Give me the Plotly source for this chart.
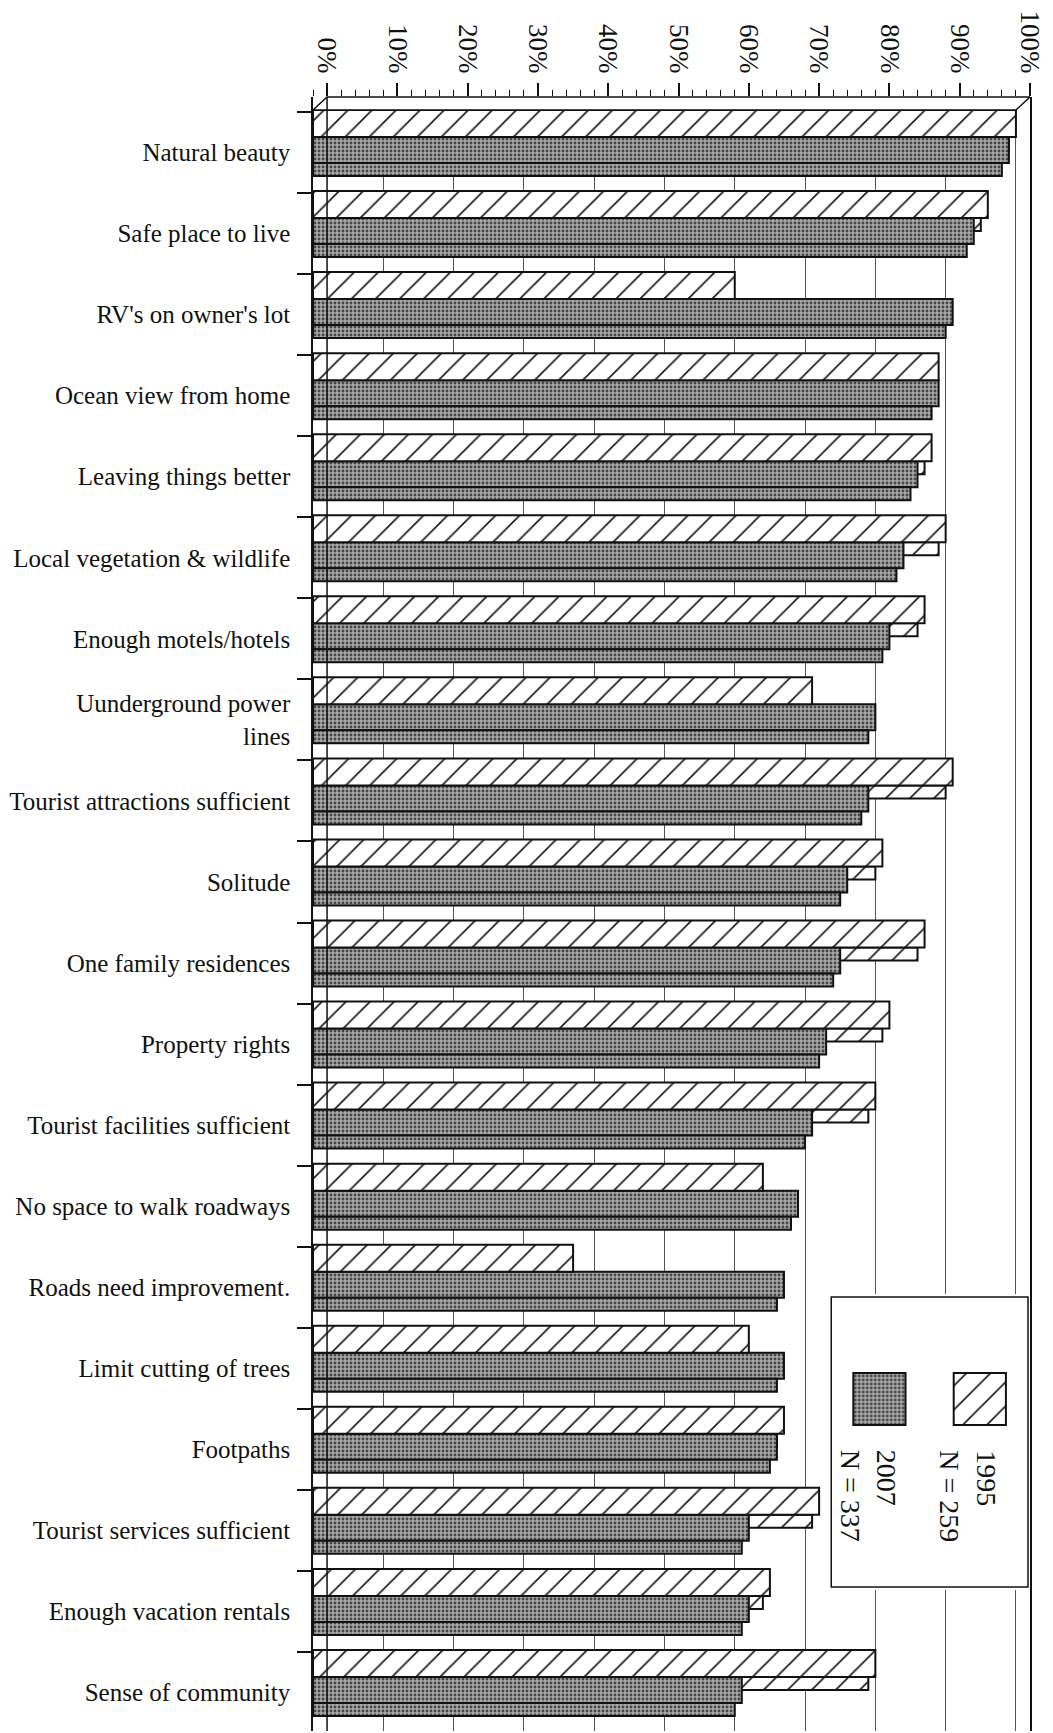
import plotly.graph_objects as go

# ---------------- data ----------------
categories = [
    "Natural beauty",
    "Safe place to live",
    "RV's on owner's lot",
    "Ocean view from home",
    "Leaving things better",
    "Local vegetation & wildlife",
    "Enough motels/hotels",
    "Uunderground power<br>lines",
    "Tourist attractions sufficient",
    "Solitude",
    "One family residences",
    "Property rights",
    "Tourist facilities sufficient",
    "No space to walk roadways",
    "Roads need improvement.",
    "Limit cutting of trees",
    "Footpaths",
    "Tourist services sufficient",
    "Enough vacation rentals",
    "Sense of community",
]
values_1995 = [98, 94, 58, 87, 86, 88, 85, 69, 89, 79, 85, 80, 78, 62, 35, 60, 65, 70, 63, 78]
values_2007 = [97, 92, 89, 87, 84, 82, 80, 78, 77, 74, 73, 71, 69, 67, 65, 65, 64, 60, 60, 59]
tick_values = [0, 10, 20, 30, 40, 50, 60, 70, 80, 90, 100]
tick_labels = ["0%", "10%", "20%", "30%", "40%", "50%", "60%", "70%", "80%", "90%", "100%"]
series_names = ["1995", "2007"]
sample_sizes = [259, 337]

# ---------------- styling / geometry ----------------
W, H = 1053, 1733
ML, MR, MT, MB = 313, 23, 97, 2
PLOT_H = H - MT - MB
DEPTH = 2.0            # 3-D depth in % units
FACE_SHRINK = 1.0      # slant of the lower faces in % units
BAND = 81.05           # px per category band
FIRST_BAND_TOP = 112   # px
FONT = "Liberation Serif"
INK = "#111111"
GRAY = "#a9a9a9"

HATCH = dict(shape="/", bgcolor="white", fgcolor="#1a1a1a", size=17, solidity=0.1)
STIPPLE = dict(shape=".", bgcolor=GRAY, fgcolor="#474747", size=4, solidity=0.4)
OUTLINE = dict(color=INK, width=2)


def off(px):
    return -0.5 + px / BAND


def wid(px):
    return px / BAND


top_units = (FIRST_BAND_TOP - MT) / BAND
y_top = -0.5 - top_units
y_bottom = y_top + PLOT_H / BAND


def ypaper(py):
    return 1 - (py - MT) / PLOT_H


def xpaper(px):
    return (px - ML) / (W - ML - MR)


fig = go.Figure()

# carrier for the back-wall grid axis
fig.add_trace(go.Scatter(x=[], y=[], xaxis="x2", yaxis="y", mode="markers",
                         showlegend=False, hoverinfo="skip"))

# lower face of 1995 bars (visible only where 1995 > 2007)
fig.add_trace(go.Bar(
    y=categories, x=[v - FACE_SHRINK + DEPTH for v in values_1995], base=-DEPTH,
    orientation="h", offset=off(25), width=wid(13),
    marker=dict(color="white", pattern=HATCH, line=OUTLINE),
    showlegend=False, hoverinfo="skip"))
# 2007 front face
fig.add_trace(go.Bar(
    y=categories, x=[v + DEPTH for v in values_2007], base=-DEPTH,
    orientation="h", offset=off(25), width=wid(26),
    marker=dict(color=GRAY, pattern=STIPPLE, line=OUTLINE),
    name=series_names[1], customdata=values_2007,
    hovertemplate="%{y}: %{customdata}%<extra>2007</extra>", showlegend=False))
# 2007 lower face
fig.add_trace(go.Bar(
    y=categories, x=[v - FACE_SHRINK + DEPTH for v in values_2007], base=-DEPTH,
    orientation="h", offset=off(51), width=wid(13),
    marker=dict(color=GRAY, pattern=STIPPLE, line=OUTLINE),
    showlegend=False, hoverinfo="skip"))
# 1995 front face
fig.add_trace(go.Bar(
    y=categories, x=[v + DEPTH for v in values_1995], base=-DEPTH,
    orientation="h", offset=off(-2), width=wid(27),
    marker=dict(color="white", pattern=HATCH, line=OUTLINE),
    name=series_names[0], customdata=values_1995,
    hovertemplate="%{y}: %{customdata}%<extra>1995</extra>", showlegend=False))

# ---------------- custom (rotated) legend ----------------
lx0, lx1 = 0.72, 1.0
ly0, ly1 = ypaper(1590), ypaper(1294)
ly_span = 1590 - 1294
fig.add_trace(go.Bar(
    x=[0.5], y=[(1587 - 1297) / ly_span], base=[(1590 - 1587) / ly_span], width=[1.96],
    marker=dict(color="white", line=dict(color=INK, width=1.5)),
    xaxis="x3", yaxis="y3", showlegend=False, hoverinfo="skip"))
sw_base = (1590 - 1425) / ly_span
sw_h = (1425 - 1373) / ly_span
fig.add_trace(go.Bar(
    x=[1], y=[sw_h], base=[sw_base], width=[0.52],
    marker=dict(color="white", pattern=HATCH, line=dict(color=INK, width=2)),
    xaxis="x3", yaxis="y3", showlegend=False, hoverinfo="skip"))
fig.add_trace(go.Bar(
    x=[0], y=[sw_h], base=[sw_base], width=[0.52],
    marker=dict(color=GRAY, pattern=STIPPLE, line=dict(color=INK, width=2)),
    xaxis="x3", yaxis="y3", showlegend=False, hoverinfo="skip"))

legend_centers = [968.75, 869.25]
for name, n, cx in zip(series_names, sample_sizes, legend_centers):
    fig.add_annotation(
        text=f"{name}<br>N = {n}", xref="paper", yref="paper",
        x=xpaper(cx), y=ypaper(1448), xanchor="center", yanchor="top",
        textangle=90, align="left", showarrow=False,
        font=dict(family=FONT, size=28, color=INK))

# ---------------- frame shapes ----------------
y_back_top = ypaper(110)
fig.add_shape(type="path", xref="x", yref="paper",
              path=f"M 0,1 L 100,1 L {100 - DEPTH},{y_back_top} L {-DEPTH},{y_back_top} Z",
              fillcolor="white", line=dict(color=INK, width=1.5), layer="above")
fig.add_shape(type="line", xref="x", yref="paper", x0=0, x1=0, y0=0, y1=1,
              line=dict(color=INK, width=1.5), layer="above")

fig.update_layout(
    width=W, height=H, template="none",
    margin=dict(l=ML, r=MR, t=MT, b=MB, autoexpand=False),
    paper_bgcolor="white", plot_bgcolor="white",
    barmode="overlay", showlegend=False,
    font=dict(family=FONT, color=INK, size=25),
    xaxis=dict(range=[-DEPTH, 100], side="top", tickmode="array",
               tickvals=tick_values, ticktext=tick_labels, tickangle=90,
               ticks="outside", ticklen=13, tickwidth=1.5, tickcolor=INK,
               showline=False, showgrid=False, zeroline=False,
               tickfont=dict(family=FONT, size=27, color=INK),
               minor=dict(ticks="outside", ticklen=6, tickwidth=1.2, tickcolor=INK,
                          tickmode="linear", tick0=0, dtick=2, showgrid=False),
               automargin=False, fixedrange=True),
    xaxis2=dict(overlaying="x", anchor="y", side="top", range=[0, 100 + DEPTH],
                tickmode="array", tickvals=tick_values, showticklabels=False, ticks="",
                showgrid=True, gridcolor="#555555", gridwidth=1, zeroline=False,
                showline=False, automargin=False, fixedrange=True),
    yaxis=dict(type="category", categoryorder="array", categoryarray=categories,
               range=[y_bottom, y_top], ticks="outside", tickson="boundaries",
               ticklen=14, tickwidth=1.5, tickcolor=INK,
               showline=True, linecolor=INK, linewidth=1.5, mirror=True,
               showgrid=False, zeroline=False,
               tickfont=dict(family=FONT, size=25, color=INK),
               ticklabelstandoff=16, automargin=False, fixedrange=True),
    xaxis3=dict(domain=[lx0, lx1], anchor="y3", range=[-0.5, 1.5], visible=False,
                fixedrange=True),
    yaxis3=dict(domain=[ly0, ly1], anchor="x3", range=[0, 1], visible=False,
                fixedrange=True),
)

fig.write_html("out.html")
